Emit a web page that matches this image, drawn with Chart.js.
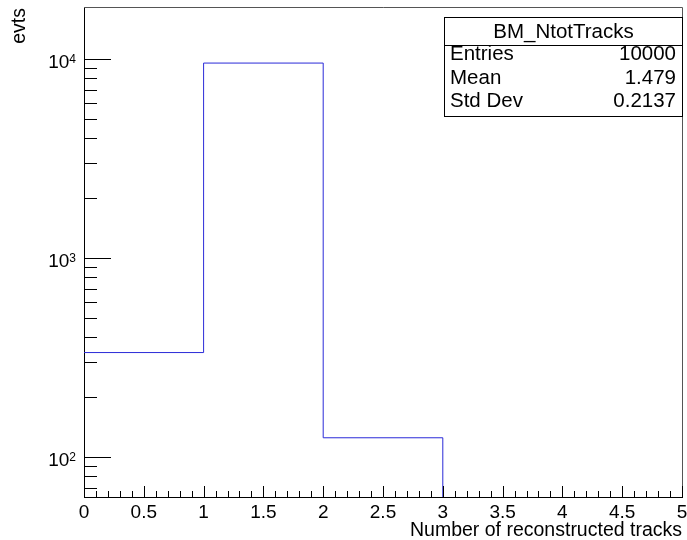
<!DOCTYPE html>
<html>
<head>
<meta charset="utf-8">
<script src="https://cdn.jsdelivr.net/npm/chart.js@4/dist/chart.umd.min.js"></script>
<style>
	html, body { margin: 0; padding: 0; background: #fff; }
	#wrap { width: 687px; height: 540px; }
</style>
</head>
<body>
<div id="wrap"><canvas id="graficoTracks" width="687" height="540"></canvas></div>
<script>
// histogram BM_NtotTracks, bins of width 1 from 0 to 5
var binEdges = [0, 1, 2, 3, 4, 5];
var binCounts = [335, 9540, 125, 0, 0];
var xTickStep = 0.5;
var yDecades = [100, 1000, 10000];
var yMin = 63;
var yMax = 18250;
var statsTitle = 'BM_NtotTracks';
var statsLabels = ['Entries', 'Mean', 'Std Dev'];
var statsValues = ['10000', '1.479', '0.2137'];
var xTitle = 'Number of reconstructed tracks';
var yTitle = 'evts';

var FONT = '"Liberation Sans", Arial, Helvetica, sans-serif';

// outline of the histogram: horizontal first, then vertical (stepped: true)
function montaPontos() {
	var pontos = [{ x: binEdges[0], y: binCounts[0] }];
	for (var i = 1; i < binCounts.length; i++) {
		if (binCounts[i] <= 0) {
			pontos.push({ x: binEdges[i], y: yMin });
			break;
		}
		pontos.push({ x: binEdges[i], y: binCounts[i] });
	}
	return pontos;
}

var enfeitesRoot = {
	id: 'enfeitesRoot',
	afterDraw: function(chart) {
		var ctx = chart.ctx;
		var area = chart.chartArea;
		var xs = chart.scales.x;
		var ys = chart.scales.y;
		ctx.save();

		// frame top and right
		ctx.strokeStyle = '#555';
		ctx.lineWidth = 1;
		ctx.beginPath();
		ctx.moveTo(area.left, area.top + 0.5);
		ctx.lineTo(area.right + 0.5, area.top + 0.5);
		ctx.lineTo(area.right + 0.5, area.bottom);
		ctx.stroke();

		// y ticks inside the frame (log)
		ctx.strokeStyle = '#000';
		ctx.beginPath();
		var dec = Math.floor(Math.log10(yMin));
		for (var d = dec; Math.pow(10, d) <= yMax; d++) {
			for (var m = 1; m <= 9; m++) {
				var v = m * Math.pow(10, d);
				if (v < yMin || v > yMax) continue;
				var py = Math.round(ys.getPixelForValue(v)) + 0.5;
				var len = m === 1 ? 27 : 13;
				ctx.moveTo(area.left, py);
				ctx.lineTo(area.left + len, py);
			}
		}
		// x ticks inside the frame
		var nMinor = Math.round((xs.max - xs.min) / 0.1);
		for (var k = 0; k <= nMinor; k++) {
			var xv = xs.min + k * 0.1;
			var px = Math.round(xs.getPixelForValue(xv)) + 0.5;
			var lenX = (k % 5 === 0) ? 11 : 6;
			ctx.moveTo(px, area.bottom);
			ctx.lineTo(px, area.bottom - lenX);
		}
		ctx.stroke();

		// y labels 10^n
		ctx.fillStyle = '#000';
		ctx.textBaseline = 'alphabetic';
		yDecades.forEach(function(v) {
			var py = ys.getPixelForValue(v);
			var exp = String(Math.round(Math.log10(v)));
			ctx.font = '12px ' + FONT;
			var wExp = ctx.measureText(exp).width;
			ctx.textAlign = 'right';
			ctx.fillText(exp, 76, py + 4);
			ctx.font = '19px ' + FONT;
			ctx.fillText('10', 76 - wExp, py + 9);
		});

		// axis titles
		ctx.font = '19.5px ' + FONT;
		ctx.textAlign = 'right';
		ctx.fillText(xTitle, area.right, 536);
		ctx.save();
		ctx.translate(25, area.top + 1);
		ctx.rotate(-Math.PI / 2);
		ctx.textAlign = 'right';
		ctx.fillText(yTitle, 0, 0);
		ctx.restore();

		// stats box
		var bx = 444.5, by = 17.5, bw = 238, bh = 99;
		ctx.fillStyle = '#fff';
		ctx.fillRect(bx, by, bw, bh);
		ctx.strokeStyle = '#000';
		ctx.strokeRect(bx, by, bw, bh);
		ctx.beginPath();
		ctx.moveTo(bx, 45.5);
		ctx.lineTo(bx + bw, 45.5);
		ctx.stroke();
		ctx.fillStyle = '#000';
		ctx.font = '20.5px ' + FONT;
		ctx.textAlign = 'center';
		ctx.fillText(statsTitle, bx + bw / 2, 38);
		for (var i = 0; i < statsLabels.length; i++) {
			var ty = 60 + i * 23.5;
			ctx.textAlign = 'left';
			ctx.fillText(statsLabels[i], 450, ty);
			ctx.textAlign = 'right';
			ctx.fillText(statsValues[i], 676, ty);
		}
		ctx.restore();
	}
};

(function() {
	var ctx = document.getElementById('graficoTracks').getContext('2d');
	new Chart(ctx, {
		type: 'line',
		data: {
			datasets: [{
				label: statsTitle,
				data: montaPontos(),
				stepped: true,
				borderColor: '#2a2ad8',
				borderWidth: 1,
				pointRadius: 0,
				fill: false
			}]
		},
		options: {
			responsive: false,
			animation: false,
			events: [],
			layout: { padding: { left: 0, top: 7, right: 5, bottom: 0 } },
			plugins: {
				legend: { display: false },
				tooltip: { enabled: false }
			},
			scales: {
				x: {
					type: 'linear',
					min: binEdges[0],
					max: binEdges[binEdges.length - 1],
					grid: { display: false },
					border: { display: true, color: '#000', width: 1 },
					ticks: {
						stepSize: xTickStep,
						autoSkip: false,
						maxRotation: 0,
						padding: -4,
						color: '#000',
						font: { family: FONT, size: 19 },
						callback: function(v) { return String(+Number(v).toFixed(1)); }
					},
					afterFit: function(scale) {
						scale.height = 43;
						scale.paddingLeft = 0;
						scale.paddingRight = 0;
					}
				},
				y: {
					type: 'logarithmic',
					min: yMin,
					max: yMax,
					grid: { display: false },
					border: { display: true, color: '#000', width: 1 },
					ticks: { display: false },
					afterFit: function(scale) { scale.width = 84; }
				}
			}
		},
		plugins: [enfeitesRoot]
	});
}());
</script>
</body>
</html>
